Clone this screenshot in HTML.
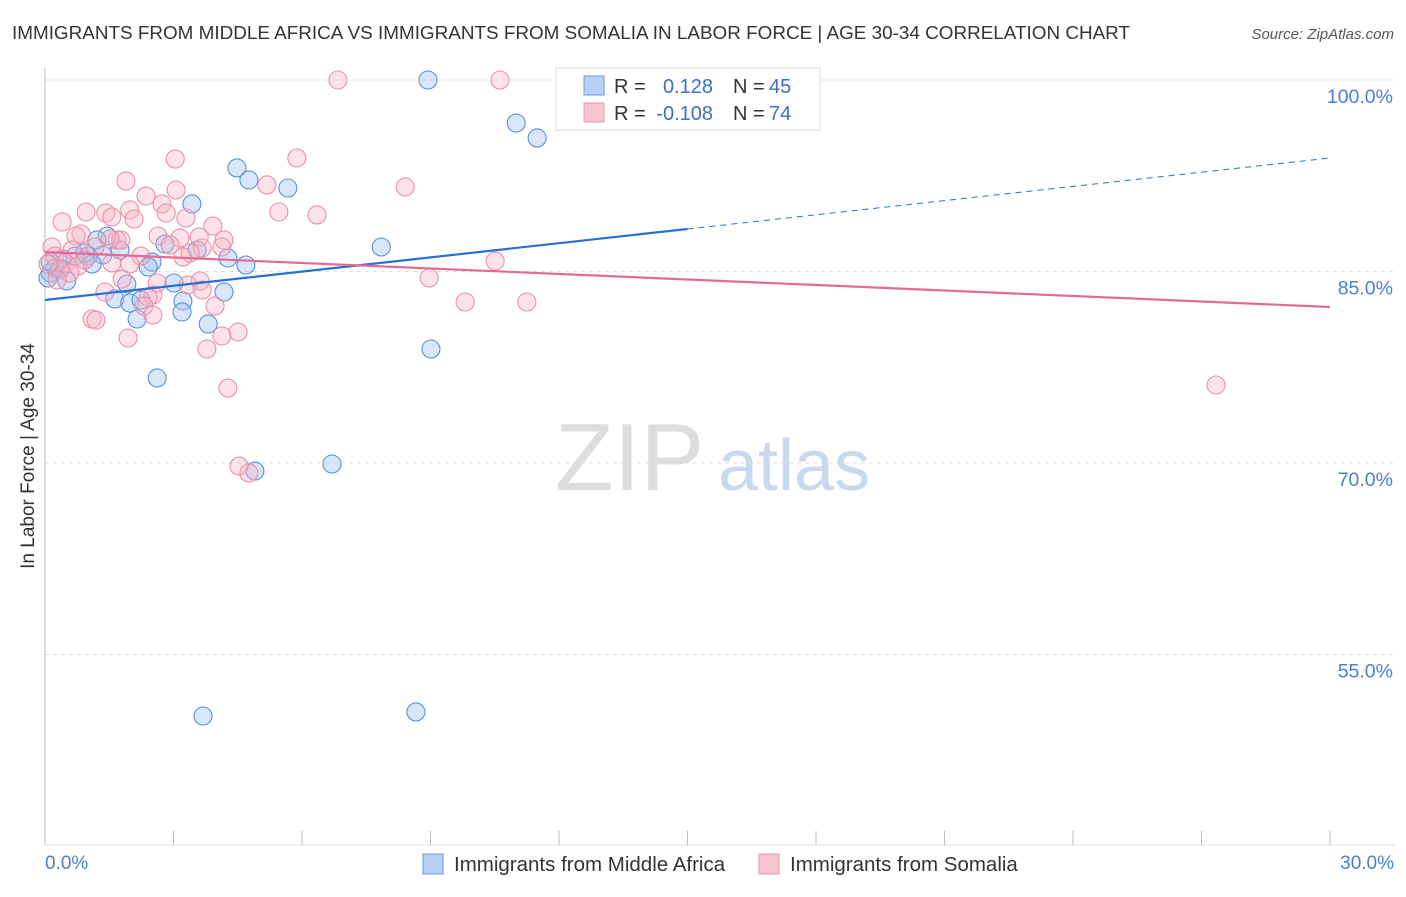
<!DOCTYPE html>
<html><head><meta charset="utf-8"><style>
body{margin:0;background:#fff;font-family:"Liberation Sans",sans-serif;}
svg text{font-family:"Liberation Sans",sans-serif;}
</style></head><body>
<svg id="chart" width="1406" height="892" xmlns="http://www.w3.org/2000/svg">
<text x="12" y="39" font-size="18" fill="#333" textLength="1118" lengthAdjust="spacingAndGlyphs">IMMIGRANTS FROM MIDDLE AFRICA VS IMMIGRANTS FROM SOMALIA IN LABOR FORCE | AGE 30-34 CORRELATION CHART</text>
<text x="1394" y="39" font-size="15" fill="#555" text-anchor="end" font-style="italic">Source: ZipAtlas.com</text>
<g id="grid"></g>
<text x="555" y="490" font-size="96" fill="#ddd" font-family="Liberation Serif">ZIP</text>
<text x="718" y="490" font-size="72" fill="#c8d8ee">atlas</text>
<line x1="45" y1="68" x2="45" y2="845" stroke="#bbb"/>
<line x1="45" y1="845" x2="1395" y2="845" stroke="#ddd"/>
<g id="ticks"></g>
<g id="pts"></g>
<g id="lines"></g>
<text x="34" y="456" font-size="19" fill="#333" text-anchor="middle" transform="rotate(-90 34 456)">In Labor Force | Age 30-34</text>
<text x="45" y="869" font-size="19" fill="#4a7fd4">0.0%</text>
<text x="1394" y="869" font-size="19" fill="#4a7fd4" text-anchor="end">30.0%</text>
<g>
<rect x="556" y="68" width="264" height="62" fill="#fff" stroke="#ddd"/>
<rect x="584" y="76" width="20" height="19" fill="#b8d0f4" stroke="#6b9ae0"/>
<rect x="584" y="103" width="20" height="19" fill="#f8c4d2" stroke="#ea96ae"/>
<text x="614" y="93" font-size="20" fill="#333">R =</text>
<text x="713" y="93" font-size="20" fill="#3a70cc" text-anchor="end">0.128</text>
<text x="733" y="93" font-size="20" fill="#333">N =</text>
<text x="769" y="93" font-size="20" fill="#3a70cc">45</text>
<text x="614" y="120" font-size="20" fill="#333">R =</text>
<text x="713" y="120" font-size="20" fill="#3a70cc" text-anchor="end">-0.108</text>
<text x="733" y="120" font-size="20" fill="#333">N =</text>
<text x="769" y="120" font-size="20" fill="#3a70cc">74</text>
</g>
<g>
<rect x="423" y="854" width="20" height="20" fill="#b8d0f4" stroke="#6b9ae0"/>
<text x="454" y="871" font-size="20.5" fill="#333">Immigrants from Middle Africa</text></g>
<g>
<rect x="759" y="854" width="20" height="20" fill="#f8c4d2" stroke="#ea96ae"/>
<text x="790" y="871" font-size="20.5" fill="#333">Immigrants from Somalia</text></g>
</svg>
<script>
const yTicks=[100,85,70,55];
const yTickLabels=["100.0%","85.0%","70.0%","55.0%"];
const blueX=[8.94,11.00,11.49,4.48,4.76,5.67,3.43,7.85,2.80,3.55,4.27,4.69,2.50,2.41,1.75,1.45,1.21,1.35,1.00,0.70,0.40,0.23,0.12,0.51,1.10,1.91,1.63,3.01,3.22,1.98,3.20,2.15,3.81,4.18,2.24,2.62,9.01,4.90,6.70,3.69,8.66,0.07,0.35,0.93,0.12];
const blueY=[100,96.63,95.46,93.11,92.17,91.54,90.29,86.92,87.15,86.68,86.06,85.51,85.74,85.35,86.68,87.78,87.47,86.29,86.21,86.21,85.98,85.27,84.88,84.26,85.59,84.02,82.85,84.10,82.69,82.53,81.83,81.28,80.89,83.39,82.77,76.66,78.93,69.37,69.92,50.18,50.50,84.49,85.27,86.45,85.74];
const pinkX=[6.84,10.62,3.04,5.88,1.89,8.41,5.18,3.06,2.36,2.73,1.98,0.40,0.96,1.42,1.56,2.08,2.83,5.46,6.35,3.29,3.92,0.84,0.72,1.68,1.77,2.64,3.15,3.60,4.18,2.92,3.67,4.13,0.16,0.63,0.23,0.47,0.77,1.56,2.24,3.39,3.22,2.62,1.80,3.62,3.34,2.52,2.41,1.40,3.67,2.31,2.52,3.97,1.10,1.19,1.94,4.51,3.78,4.13,4.27,10.51,8.97,9.81,11.25,27.34,4.53,4.76,1.17,0.35,0.58,0.07,1.52,0.28,0.93,1.98];
const pinkY=[100,100,93.81,93.89,92.09,91.62,91.78,91.38,90.91,90.29,89.82,88.88,89.66,89.58,89.27,89.11,89.58,89.66,89.43,89.19,88.56,87.94,87.78,87.47,87.47,87.78,87.62,87.70,87.47,87.08,86.84,86.92,86.92,86.68,86.21,85.67,85.43,85.67,86.21,86.45,86.14,84.10,84.41,84.26,83.94,83.16,82.99,83.39,83.55,82.30,81.59,82.30,81.28,81.20,79.79,80.26,78.93,79.95,75.87,85.82,84.49,82.61,82.61,76.11,69.76,69.22,86.92,85.12,84.88,85.59,87.55,84.33,85.90,85.59];
const blueTrend=[82.77,88.33,93.89];
const pinkTrend=[86.53,82.22];
const NS="http://www.w3.org/2000/svg";
const xs=v=>45+v/30*1285;
const ys=v=>80+(100-v)/15*191.5;
function mk(tag,attrs,parent){const e=document.createElementNS(NS,tag);for(const k in attrs)e.setAttribute(k,attrs[k]);parent.appendChild(e);return e;}
const grid=document.getElementById('grid');
yTicks.forEach((t,i)=>{
 const l=mk('line',{x1:45,x2:1395,y1:ys(t),y2:ys(t),stroke:'#ddd','stroke-dasharray':'4 4'},grid);
 
 
 const tx=mk('text',{x:1393,y:ys(t)+23,'font-size':19.5,fill:'#4a7fd4','text-anchor':'end'},grid);
 tx.textContent=yTickLabels[i];
 
 
});
const ticks=document.getElementById('ticks');
for(let i=0;i<=10;i++){const l=mk('line',{x1:xs(i*3),x2:xs(i*3),y1:831,y2:845,stroke:'#bbb'},ticks);
 
 }
const pts=document.getElementById('pts');
blueX.forEach((x,i)=>{const c=mk('circle',{cx:xs(x),cy:ys(blueY[i]),r:9,fill:'rgba(160,195,240,0.42)',stroke:'#5b8fd6','stroke-width':1.1},pts);
 
 });
pinkX.forEach((x,i)=>{const c=mk('circle',{cx:xs(x),cy:ys(pinkY[i]),r:9,fill:'rgba(248,178,198,0.38)',stroke:'#eb90aa','stroke-width':1.1},pts);
 
 });
const lines=document.getElementById('lines');
let l1=mk('line',{x1:xs(0),y1:ys(blueTrend[0]),x2:xs(15),y2:ys(blueTrend[1]),stroke:'#2a6fd4','stroke-width':2.2},lines);


let l2=mk('line',{x1:xs(15),y1:ys(blueTrend[1]),x2:xs(30),y2:ys(blueTrend[2]),stroke:'#2a6fd4','stroke-width':1,'stroke-dasharray':'6 5'},lines);


let l3=mk('line',{x1:xs(0),y1:ys(pinkTrend[0]),x2:xs(30),y2:ys(pinkTrend[1]),stroke:'#e36a96','stroke-width':2.2},lines);


</script>
</body></html>
